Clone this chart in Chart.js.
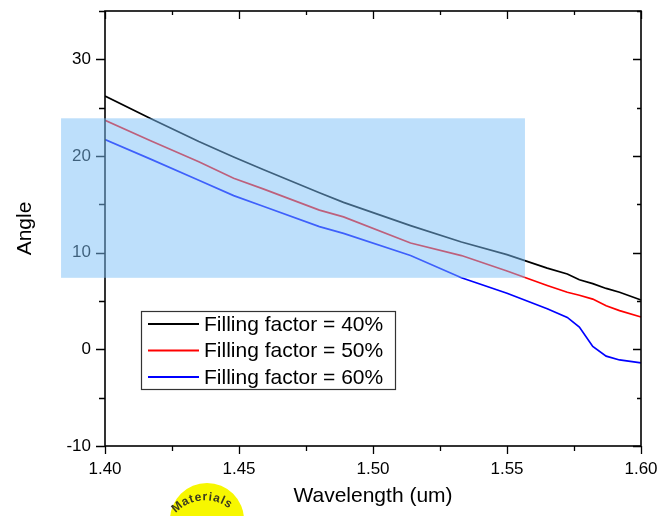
<!DOCTYPE html>
<html><head><meta charset="utf-8">
<script src="https://cdn.jsdelivr.net/npm/chart.js@4.4.1/dist/chart.umd.min.js"></script>
<style>html,body{margin:0;padding:0;background:#fff}#wrap{width:660px;height:516px;position:relative}</style>
</head><body><div id="wrap"><canvas id="c" width="660" height="516"></canvas></div>
<script>
// ---- data ----
const wavelength = [1.400, 1.4168, 1.435, 1.448, 1.459, 1.480, 1.489, 1.514, 1.533, 1.550, 1.565, 1.5725, 1.577, 1.582, 1.587, 1.592, 1.600, 1.6025];
const ff40 = [26.2, 23.9, 21.5, 19.9, 18.6, 16.2, 15.2, 12.8, 11.1, 9.8, 8.4, 7.8, 7.2, 6.8, 6.3, 5.9, 5.1, 4.75];
const ff50 = [23.7, 21.6, 19.4, 17.7, 16.6, 14.4, 13.7, 11.0, 9.7, 8.1, 6.6, 5.9, 5.6, 5.2, 4.5, 4.0, 3.35, 3.1];
const ff60 = [21.7, 19.7, 17.5, 15.9, 14.8, 12.7, 12.0, 9.7, 7.4, 5.8, 4.2, 3.3, 2.3, 0.3, -0.7, -1.1, -1.4, -1.45];
const seriesLabels = ['Filling factor = 40%', 'Filling factor = 50%', 'Filling factor = 60%'];
const seriesColors = ['#000000', '#ff0000', '#0000ff'];
const xRange = [1.40, 1.60];
const yRange = [-10, 35];
const highlightX = [1.3836, 1.5567];
const highlightY = [7.4, 23.9];
const xTitle = 'Wavelength (um)';
const yTitle = 'Angle';
const logoText = 'Materials';

const FONT = "'Liberation Sans', Arial, sans-serif";

function pts(ys) { return wavelength.map((x, i) => ({x: x, y: ys[i]})); }

const frameTicks = {
  id: 'frameTicks',
  afterDraw(chart) {
    const {ctx, chartArea: a, scales: {x, y}} = chart;
    ctx.save();
    ctx.strokeStyle = '#000';
    ctx.lineWidth = 1.6;
    ctx.strokeRect(a.left, a.top, a.right - a.left, a.bottom - a.top);
    ctx.lineWidth = 1.3;
    ctx.beginPath();
    for (let i = 0; i <= 8; i++) {
      const v = xRange[0] + i * 0.025;
      const px = Math.round(x.getPixelForValue(v)) + 0.5;
      const major = i % 2 === 0;
      ctx.moveTo(px, a.bottom); ctx.lineTo(px, a.bottom + (major ? 8 : 5));
      ctx.moveTo(px, a.top); ctx.lineTo(px, a.top + (major ? 8 : 4));
    }
    for (let v = yRange[0]; v <= yRange[1]; v += 5) {
      const py = Math.round(y.getPixelForValue(v)) + 0.5;
      const major = v % 10 === 0;
      ctx.moveTo(a.left, py); ctx.lineTo(a.left - (major ? 9 : 6), py);
      ctx.moveTo(a.right, py); ctx.lineTo(a.right - (major ? 8 : 4), py);
    }
    ctx.stroke();
    ctx.restore();
  }
};

const boxLegend = {
  id: 'boxLegend',
  afterDraw(chart) {
    const {ctx} = chart;
    const bx = 141.5, by = 311.5, bw = 254, bh = 78;
    ctx.save();
    ctx.fillStyle = '#fff';
    ctx.fillRect(bx, by, bw, bh);
    ctx.strokeStyle = '#333';
    ctx.lineWidth = 1.2;
    ctx.strokeRect(bx, by, bw, bh);
    ctx.font = '21px ' + FONT;
    ctx.textBaseline = 'middle';
    ctx.fillStyle = '#000';
    chart.data.datasets.forEach((ds, i) => {
      const ry = 324 + i * 26.5;
      ctx.strokeStyle = ds.borderColor;
      ctx.lineWidth = 2;
      ctx.beginPath(); ctx.moveTo(148, ry); ctx.lineTo(199, ry); ctx.stroke();
      ctx.fillText(ds.label, 204, ry + 1);
    });
    ctx.restore();
  }
};

const overlay = {
  id: 'overlay',
  afterDraw(chart) {
    const {ctx, scales: {x, y}} = chart;
    const x0 = x.getPixelForValue(highlightX[0]), x1 = x.getPixelForValue(highlightX[1]);
    const y0 = y.getPixelForValue(highlightY[1]), y1 = y.getPixelForValue(highlightY[0]);
    ctx.save();
    ctx.fillStyle = 'rgba(123,191,247,0.5)';
    ctx.fillRect(x0, y0, x1 - x0, y1 - y0);
    ctx.restore();
  }
};

const logo = {
  id: 'logo',
  afterDraw(chart) {
    const {ctx} = chart;
    ctx.save();
    ctx.fillStyle = '#f7f700';
    ctx.beginPath(); ctx.arc(207, 520, 37, 0, Math.PI * 2); ctx.fill();
    ctx.font = 'bold 12px ' + FONT;
    ctx.fillStyle = '#3a3a20';
    ctx.textAlign = 'center';
    ctx.textBaseline = 'middle';
    const cx = 205, cy = 540, r = 43;
    const chars = logoText.split('');
    const widths = chars.map(c => ctx.measureText(c).width);
    const total = widths.reduce((s, w) => s + w, 0);
    const targetArc = 84 * Math.PI / 180 * r;
    const gap = (targetArc - total) / (chars.length - 1);
    let ang = -95 * Math.PI / 180 - (targetArc / r) / 2;
    chars.forEach((c, i) => {
      const a = ang + (widths[i] / 2) / r;
      ctx.save();
      ctx.translate(cx + r * Math.cos(a), cy + r * Math.sin(a));
      ctx.rotate(a + Math.PI / 2);
      ctx.fillText(c, 0, 0);
      ctx.restore();
      ang += (widths[i] + gap) / r;
    });
    ctx.restore();
  }
};

const hiddenTickGrid = (len) => ({display: true, drawOnChartArea: false, drawTicks: true, tickLength: len, tickColor: 'rgba(0,0,0,0)', color: 'rgba(0,0,0,0)'});

new Chart(document.getElementById('c'), {
  type: 'line',
  data: {
    datasets: [ff40, ff50, ff60].map((ys, i) => ({
      label: seriesLabels[i],
      data: pts(ys),
      borderColor: seriesColors[i],
      backgroundColor: seriesColors[i],
      borderWidth: 1.7,
      pointRadius: 0,
      tension: 0,
      fill: false,
      clip: {left: 0, top: 0, right: 8, bottom: 0}
    }))
  },
  options: {
    responsive: false,
    animation: false,
    devicePixelRatio: 1,
    layout: {padding: {left: 0, right: 19, top: 11, bottom: 0}},
    plugins: {legend: {display: false}, tooltip: {enabled: false}},
    scales: {
      x: {
        type: 'linear',
        min: xRange[0], max: xRange[1],
        afterFit: s => { s.height = 70; },
        grid: hiddenTickGrid(13),
        border: {display: false},
        ticks: {stepSize: 0.05, padding: 0, color: '#000', font: {family: FONT, size: 17}, maxRotation: 0,
          callback: v => Number(v).toFixed(2)},
        title: {display: true, text: xTitle, color: '#000', font: {family: FONT, size: 21}, padding: {top: 0, bottom: 7}}
      },
      y: {
        type: 'linear',
        min: yRange[0], max: yRange[1],
        afterFit: s => { s.width = 105; },
        grid: hiddenTickGrid(14),
        border: {display: false},
        ticks: {stepSize: 10, includeBounds: false, padding: 0, color: '#000', font: {family: FONT, size: 17},
          callback: v => (v % 10 === 0 ? v : '')},
        title: {display: true, text: yTitle, color: '#000', font: {family: FONT, size: 21}, padding: {top: 13, bottom: 0}}
      }
    }
  },
  plugins: [frameTicks, boxLegend, overlay, logo]
});
</script>
</body></html>
